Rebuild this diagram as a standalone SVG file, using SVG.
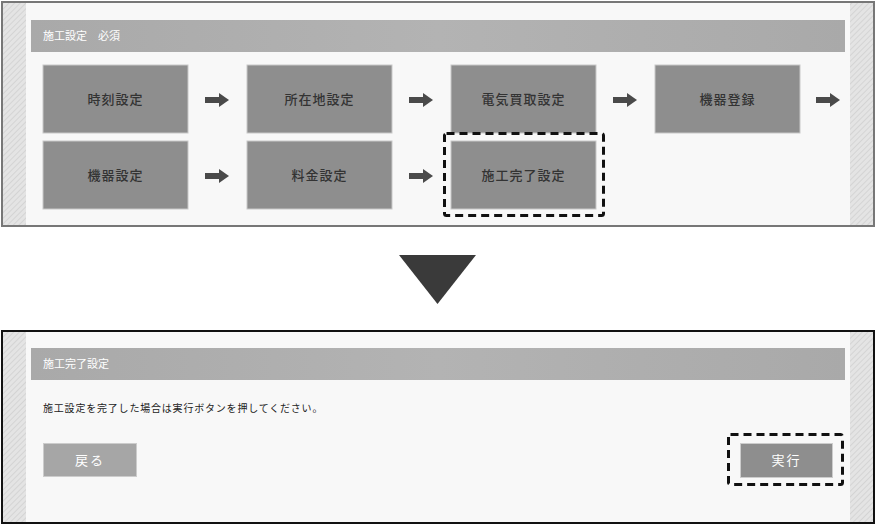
<svg xmlns="http://www.w3.org/2000/svg" width="876" height="526" viewBox="0 0 876 526">
<defs>
<pattern id="hatch" width="4" height="4" patternUnits="userSpaceOnUse" patternTransform="rotate(45)">
<rect width="4" height="4" fill="#e4e4e4"/><line x1="0" y1="0" x2="0" y2="4" stroke="#cfcfcf" stroke-width="1.5"/>
</pattern>
<linearGradient id="hdr" x1="0" x2="1"><stop offset="0" stop-color="#a9a9a9"/><stop offset="0.5" stop-color="#b3b3b3"/><stop offset="1" stop-color="#a9a9a9"/></linearGradient>
<marker id="ah" viewBox="0 0 10 14" refX="0" refY="7" markerWidth="10" markerHeight="14" markerUnits="userSpaceOnUse" orient="auto"><path d="M0,0 L10,7 L0,14 Z" fill="#4a4a4a"/></marker>
</defs>
<style>
.box{fill:#8e8e8e;stroke:#c8c8c8;stroke-width:1}
.t{font-family:"Noto Sans CJK JP",sans-serif;font-size:13px;font-weight:500;fill:#333;text-anchor:middle;letter-spacing:1px}
.h{font-family:"Noto Sans CJK JP",sans-serif;font-size:11px;fill:#fff}
.w{font-family:"Noto Sans CJK JP",sans-serif;font-size:13px;fill:#fff;text-anchor:middle;letter-spacing:2px}
.arr{stroke:#4a4a4a;stroke-width:6;fill:none}
.dash{fill:none;stroke:#111;stroke-width:3;stroke-dasharray:8,5}
</style>
<rect width="876" height="526" fill="#fff"/>
<g id="top-panel">
<rect x="2" y="2" width="872" height="224" fill="#f8f8f8" stroke="#777" stroke-width="2"/>
<rect x="3" y="3" width="23" height="222" fill="url(#hatch)"/>
<rect x="850" y="3" width="23" height="222" fill="url(#hatch)"/>
<rect x="31" y="20" width="814" height="32" fill="url(#hdr)"/>
<text class="h" x="43" y="40">施工設定　必須</text>
</g>
<g id="n1"><rect class="box" x="43" y="65" width="145" height="68"/><text class="t" x="115.5" y="104">時刻設定</text></g>
<g id="n2"><rect class="box" x="247" y="65" width="145" height="68"/><text class="t" x="319.5" y="104">所在地設定</text></g>
<g id="n3"><rect class="box" x="451" y="65" width="145" height="68"/><text class="t" x="523.5" y="104">電気買取設定</text></g>
<g id="n4"><rect class="box" x="655" y="65" width="145" height="68"/><text class="t" x="727.5" y="104">機器登録</text></g>
<g id="n5"><rect class="box" x="43" y="141" width="145" height="68"/><text class="t" x="115.5" y="180">機器設定</text></g>
<g id="n6"><rect class="box" x="247" y="141" width="145" height="68"/><text class="t" x="319.5" y="180">料金設定</text></g>
<g id="n7"><rect class="box" x="451" y="141" width="145" height="68"/><text class="t" x="523.5" y="180">施工完了設定</text>
<rect class="dash" x="444.5" y="133.5" width="159" height="82" rx="2"/></g>
<g id="connectors">
<line class="arr" x1="205" y1="100" x2="219" y2="100" marker-end="url(#ah)"/>
<line class="arr" x1="409" y1="100" x2="423" y2="100" marker-end="url(#ah)"/>
<line class="arr" x1="613" y1="100" x2="627" y2="100" marker-end="url(#ah)"/>
<line class="arr" x1="816" y1="100" x2="830" y2="100" marker-end="url(#ah)"/>
<line class="arr" x1="205" y1="176" x2="219" y2="176" marker-end="url(#ah)"/>
<line class="arr" x1="409" y1="176" x2="423" y2="176" marker-end="url(#ah)"/>
<path d="M399,255 L476,255 L437.5,304 Z" fill="#3a3a3a"/>
</g>
<g id="bottom-panel">
<rect x="2" y="331" width="872" height="192" fill="#f8f8f8" stroke="#111" stroke-width="2"/>
<rect x="3" y="332" width="23" height="190" fill="url(#hatch)"/>
<rect x="850" y="332" width="23" height="190" fill="url(#hatch)"/>
<rect x="31" y="348" width="814" height="32" fill="url(#hdr)"/>
<text class="h" x="43" y="368">施工完了設定</text>
<text x="43" y="412" font-family="'Noto Sans CJK JP',sans-serif" font-size="10" fill="#222" letter-spacing="0.8">施工設定を完了した場合は実行ボタンを押してください。</text>
</g>
<g id="btn-back"><rect x="43.5" y="443.5" width="93" height="33" fill="#a6a6a6" stroke="#ccc"/><text class="w" x="90" y="465">戻る</text></g>
<g id="btn-run"><rect x="740.5" y="443.5" width="92" height="34" fill="#8e8e8e" stroke="#ccc"/><text class="w" x="786.5" y="465">実行</text>
<rect class="dash" x="728.5" y="434.5" width="114" height="50" rx="2"/></g>
</svg>
